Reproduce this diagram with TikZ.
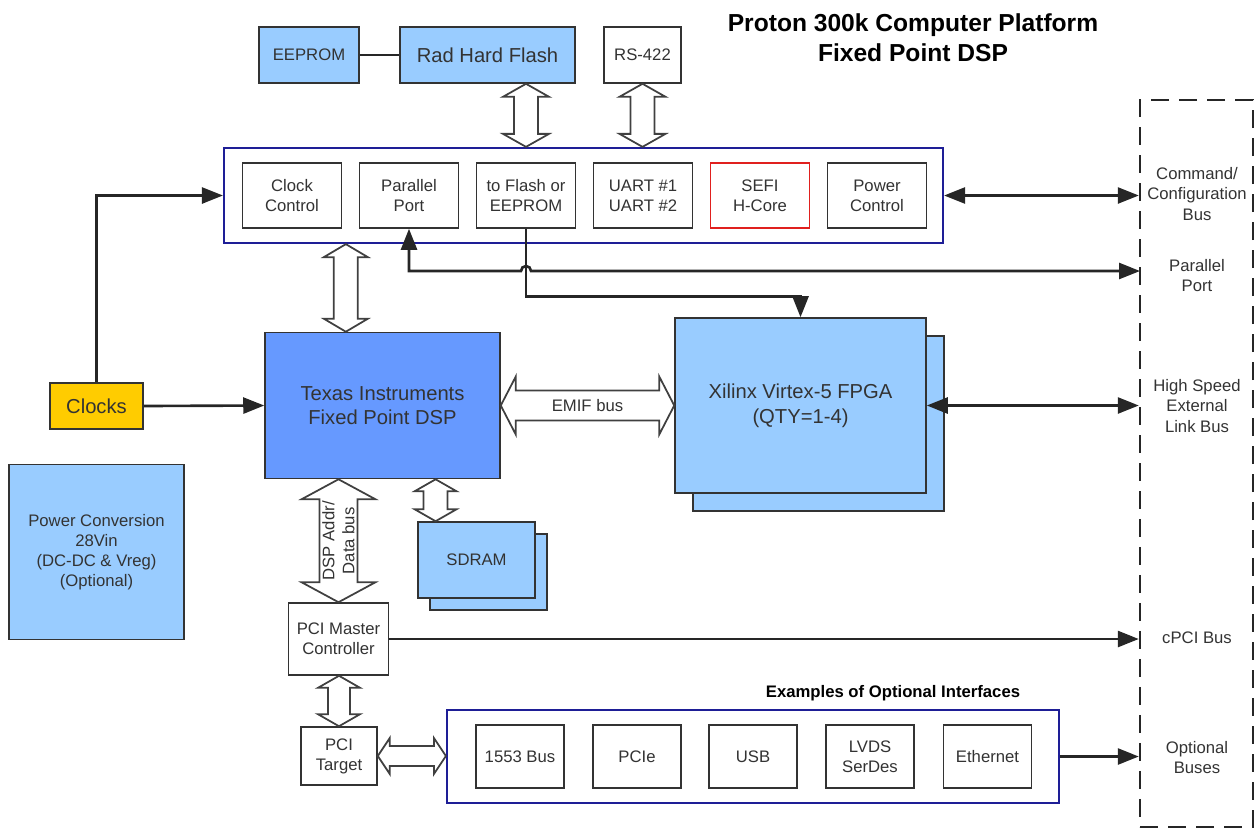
\documentclass[tikz,border=0pt]{standalone}
\usepackage{fontspec}
\setmainfont{Liberation Sans}
\usetikzlibrary{arrows.meta,calc}

\definecolor{lightblue}{HTML}{99CCFF}
\definecolor{dspblue}{HTML}{6699FF}
\definecolor{clkyellow}{HTML}{FFCC00}
\definecolor{busnavy}{RGB}{30,30,150}
\definecolor{sefired}{HTML}{E0201E}
\definecolor{txtgray}{HTML}{333333}

\newcommand{\pxu}{0.02cm}

\newcommand{\vbus}[5]{%
    \draw[busline] let \p1=(#1), \p2=(#2) in
        (\x2,\y1) -- (\x2+#4*\pxu,\y1-#5*\pxu) -- (\x2+#3*\pxu,\y1-#5*\pxu)
        -- (\x2+#3*\pxu,\y2+#5*\pxu) -- (\x2+#4*\pxu,\y2+#5*\pxu) -- (\x2,\y2)
        -- (\x2-#4*\pxu,\y2+#5*\pxu) -- (\x2-#3*\pxu,\y2+#5*\pxu)
        -- (\x2-#3*\pxu,\y1-#5*\pxu) -- (\x2-#4*\pxu,\y1-#5*\pxu) -- cycle;}

\newcommand{\hbus}[5]{%
    \draw[busline] let \p1=(#1), \p2=(#2) in
        (\x1,\y1) -- (\x1+#5*\pxu,\y1+#4*\pxu) -- (\x1+#5*\pxu,\y1+#3*\pxu)
        -- (\x2-#5*\pxu,\y1+#3*\pxu) -- (\x2-#5*\pxu,\y1+#4*\pxu) -- (\x2,\y1)
        -- (\x2-#5*\pxu,\y1-#4*\pxu) -- (\x2-#5*\pxu,\y1-#3*\pxu)
        -- (\x1+#5*\pxu,\y1-#3*\pxu) -- (\x1+#5*\pxu,\y1-#4*\pxu) -- cycle;}

\tikzset{
    blk/.style={draw=black!80, line width=0.9pt, align=center, text=txtgray, inner sep=0pt,
        font=\fontsize{9.5}{11.4}\selectfont},
    subblk/.style={blk, fill=white, minimum width=1.98cm, minimum height=1.3cm},
    optblk/.style={blk, fill=white, minimum width=1.76cm, minimum height=1.26cm},
    bigfont/.style={font=\fontsize{11.5}{14}\selectfont},
    group/.style={draw=busnavy, line width=1.3pt, fill=white, inner sep=0pt},
    link/.style={draw=black!85, line width=1.5pt},
    bustip/.tip={Triangle[length=0.42cm,width=0.32cm]},
    busline/.style={draw=black!75, fill=white, line width=1pt, line join=miter},
    buslbl/.style={align=center, text=txtgray, inner sep=0pt, font=\fontsize{9.5}{11.4}\selectfont},
}

\begin{document}
\begin{tikzpicture}[x=0.02cm, y=-0.02cm]

    \useasboundingbox (0,0) rectangle (1256,829);

    \node[align=center, font=\fontsize{14}{17}\selectfont\bfseries] (title) at (913,38) {Proton 300k Computer Platform\\Fixed Point DSP};

    \node[blk, fill=lightblue, minimum width=2cm, minimum height=1.12cm] (eeprom) at (309,55) {EEPROM};
    \node[blk, bigfont, fill=lightblue, minimum width=3.5cm, minimum height=1.12cm] (flash) at (487.5,55) {Rad Hard Flash};
    \node[blk, fill=white, minimum width=1.54cm, minimum height=1.12cm] (rs) at (642.5,55) {RS-422};
    \draw[link, line width=1.2pt] (eeprom) -- (flash);

    \node[group, minimum width=14.38cm, minimum height=1.9cm] (ctrl) at (583.5,195.5) {};
    \node[subblk] (clkctl) at (292,195.5) {Clock\\Control};
    \node[subblk] (parport) at (409,195.5) {Parallel\\Port};
    \node[subblk] (flashif) at (526,195.5) {to Flash or\\EEPROM};
    \node[subblk] (uart) at (643,195.5) {UART \#1\\UART \#2};
    \node[subblk, draw=sefired] (sefi) at (760,195.5) {SEFI\\H-Core};
    \node[subblk] (pwrctl) at (877,195.5) {Power\\Control};

    \node[blk, bigfont, fill=clkyellow, minimum width=1.86cm, minimum height=0.92cm] (clocks) at (96.5,406) {Clocks};
    \node[blk, bigfont, fill=dspblue, minimum width=4.7cm, minimum height=2.92cm] (dsp) at (382.5,405.5) {Texas Instruments\\Fixed Point DSP};

    \node[blk, fill=lightblue, minimum width=5.02cm, minimum height=3.5cm] (fpgaback) at (818.5,423.5) {};
    \node[blk, bigfont, fill=lightblue, minimum width=5.02cm, minimum height=3.5cm] (fpga) at (800.5,405.5) {Xilinx Virtex-5 FPGA\\(QTY=1-4)};

    \node[blk, fill=lightblue, minimum width=2.34cm, minimum height=1.52cm] (sdramback) at (488.5,572) {};
    \node[blk, fill=lightblue, minimum width=2.34cm, minimum height=1.52cm] (sdram) at (476.5,560) {SDRAM};

    \node[blk, fill=lightblue, minimum width=3.5cm, minimum height=3.5cm] (power) at (96.5,552) {Power Conversion\\28Vin\\(DC-DC \& Vreg)\\(Optional)};

    \node[blk, fill=white, minimum width=2cm, minimum height=1.44cm] (pcim) at (338.5,639) {PCI Master\\Controller};
    \node[blk, fill=white, minimum width=1.52cm, minimum height=1.16cm] (pcit) at (339,756) {PCI\\Target};

    \node[font=\fontsize{9.5}{11}\selectfont\bfseries] (optlbl) at (893,693) {Examples of Optional Interfaces};
    \node[group, minimum width=12.24cm, minimum height=1.86cm] (opt) at (753,756.5) {};
    \node[optblk] (mil) at (520,756.5) {1553 Bus};
    \node[optblk] (pcie) at (637,756.5) {PCIe};
    \node[optblk] (usb) at (753,756.5) {USB};
    \node[optblk] (lvds) at (870,756.5) {LVDS\\SerDes};
    \node[optblk] (eth) at (987.5,756.5) {Ethernet};

    \node[draw=black!85, line width=1.4pt, dash pattern=on 0.36cm off 0.2cm, minimum width=2.26cm, minimum height=14.54cm, inner sep=0pt] (bus) at (1196.5,463.5) {};
    \node[buslbl] (cmdlbl) at (1197,194) {Command/\\Configuration\\Bus};
    \node[buslbl] (pplbl) at (1197,276) {Parallel\\Port};
    \node[buslbl] (hslbl) at (1197,406) {High Speed\\External\\Link Bus};
    \node[buslbl] (cpcilbl) at (1197,638) {cPCI Bus};
    \node[buslbl] (optbuslbl) at (1197,758) {Optional\\Buses};

    \vbus{flash.south}{ctrl.north -| flashif.north}{12}{23}{13}
    \vbus{rs.south}{ctrl.north -| rs.south}{12}{23}{13}
    \vbus{ctrl.south}{$(dsp.north west)!0.345!(dsp.north east)$}{12}{22}{13}
    \vbus{dsp.south}{$(sdram.north west)!0.155!(sdram.north east)$}{12}{21}{12}
    \vbus{dsp.south}{pcim.north}{19}{37}{20}
    \vbus{pcim.south}{pcit.north}{11}{21}{12}
    \hbus{dsp.east}{fpga.west}{15}{29}{15}
    \hbus{pcit.east}{opt.west}{10}{18}{12}
    \node[buslbl] (emiflbl) at ($(dsp.east)!0.5!(fpga.west)$) {EMIF bus};
    \node[buslbl, rotate=90] (addrlbl) at ($(dsp.south -| pcim.north)!0.5!(pcim.north)$) {DSP Addr/\\Data bus};

    \draw[link, -{bustip}] (clocks.north) |- (ctrl.west);
    \draw[link, -{bustip}] (clocks.east) -- (dsp.west);
    \draw[link, {bustip}-{bustip}] (ctrl.east) -- (ctrl.east -| bus.west);
    \coordinate (ppbus) at (1140,271);
    \draw[link, {bustip}-{bustip}] (ppbus) -- ($(flashif.south |- ppbus)+(5,0)$) arc[start angle=0, end angle=180, radius=0.1cm] -- (parport.south |- ppbus) -- (parport.south);
    \draw[link, -{bustip}] (flashif.south) |- ($(fpga.north)+(0,-21)$) -- (fpga.north);
    \draw[link, {bustip}-{bustip}] (fpga.east) -- (fpga.east -| bus.west);
    \draw[link, -{bustip}] (pcim.east) -- (pcim.east -| bus.west);
    \draw[link, -{bustip}] (opt.east) -- (opt.east -| bus.west);

\end{tikzpicture}
\end{document}
